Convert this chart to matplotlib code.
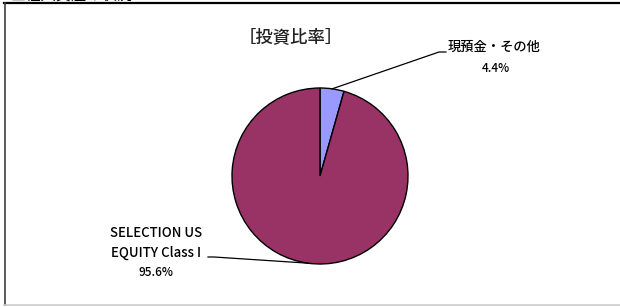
import matplotlib.pyplot as plt
import numpy as np

plt.rcParams['font.family'] = ['Noto Sans CJK JP', 'DejaVu Sans']

# 投資比率
labels = ['現預金・その他', 'SELECTION US\nEQUITY Class I']
values = [4.4, 95.6]
colors = ['#9999ff', '#993366']
title = '［投資比率］'

W, H = 620, 307
fig = plt.figure(figsize=(W / 100, H / 100), dpi=100)
ax = fig.add_axes([0, 0, 1, 1])
ax.set_xlim(0, W)
ax.set_ylim(0, H)
ax.set_aspect('equal')
ax.axis('off')

# 枠線
ax.plot([4, W], [H - 3, H - 3], color='black', lw=1.6)
ax.plot([4.5, 4.5], [H - 3, 2.5], color='#404040', lw=1.2)
ax.plot([4, W], [2.5, 2.5], color='#cccccc', lw=1.2)

# 上端で切れた見出し
ax.text(10, H - 3.5, '■組入資産の状況', fontsize=11, va='bottom', ha='left')

cx, cy, r = 320, H - 176, 88
wedges, _ = ax.pie(values, colors=colors, startangle=90, counterclock=False,
                   center=(cx, cy), radius=r,
                   wedgeprops=dict(edgecolor='black', linewidth=1.0))
ax.set_xlim(0, W)
ax.set_ylim(0, H)

ax.text(291, H - 37, title, fontsize=12.5, ha='center', va='center',
        color='#222222', fontweight='medium')

# 小さいスライスのラベル
w = wedges[0]
ang = np.deg2rad((w.theta1 + w.theta2) / 2)
px, py = cx + r * np.cos(ang), cy + r * np.sin(ang)
ax.plot([px, 439, 446], [py, H - 52, H - 52], color='black', lw=0.9)
ax.text(448, H - 47, labels[0], fontsize=9.5, ha='left', va='center',
        fontweight='medium')
ax.text(496, H - 68, f'{values[0]}%', fontsize=8.5, ha='center', va='center',
        fontweight='medium')

# 大きいスライスのラベル
w = wedges[1]
ang = np.deg2rad((w.theta1 + w.theta2) / 2)
px, py = cx + r * np.cos(ang), cy + r * np.sin(ang)
ax.plot([208, 214, px], [H - 257, H - 257, py], color='black', lw=0.9)
ax.text(156, H - 243, labels[1], fontsize=9.5, ha='center', va='center',
        linespacing=1.45, fontweight='medium')
ax.text(156, H - 273, f'{values[1]}%', fontsize=8.5, ha='center', va='center',
        fontweight='medium')

fig.savefig('out.png', dpi=100)
